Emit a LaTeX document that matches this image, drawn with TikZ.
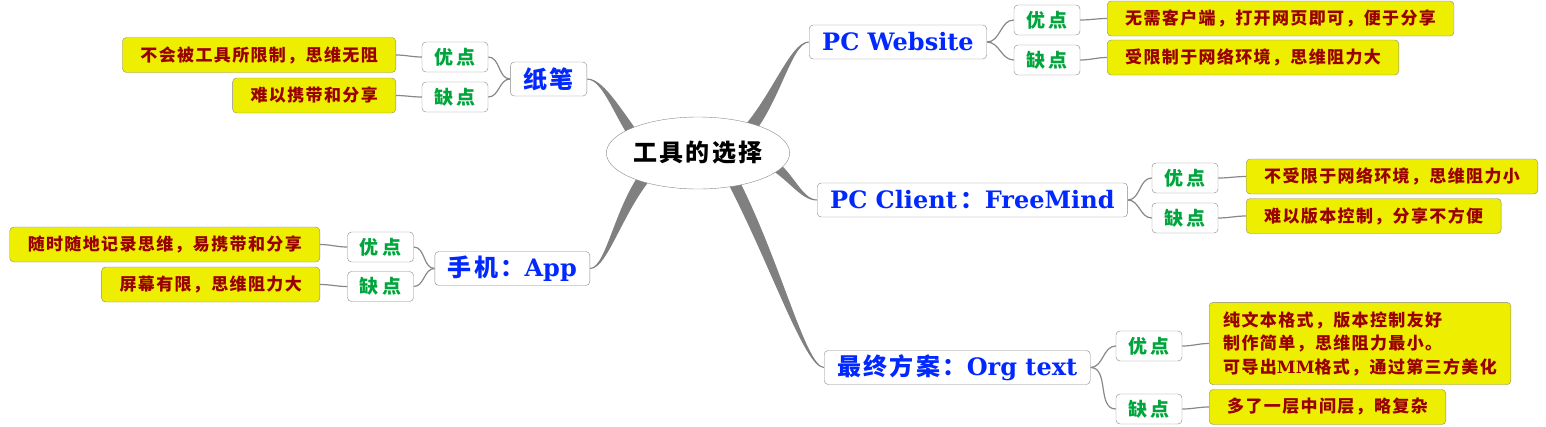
\documentclass[tikz,border=0pt]{standalone}
\usepackage{fontspec}
\setmainfont{DejaVu Serif}
\newfontfamily\cjkA{Noto Sans CJK SC}[LetterSpace=8]
\newfontfamily\cjkB{Noto Sans CJK SC}[LetterSpace=18]
\newfontfamily\cjkC{Noto Sans CJK SC}[LetterSpace=10]
\usetikzlibrary{shapes.geometric,backgrounds,calc}

\definecolor{linegray}{RGB}{136,136,136}
\definecolor{branchgray}{RGB}{128,128,128}
\definecolor{topicblue}{RGB}{0,40,255}
\definecolor{sidegreen}{RGB}{0,165,60}
\definecolor{noteyellow}{RGB}{238,238,0}
\definecolor{notered}{RGB}{153,0,0}

% tapered branch: start, control near start, control near root, end, half width
\newcommand\branch[5]{%
  \filldraw[branchfill] (#1) .. controls (#2) and ($(#3)+(#5)$) .. ($(#4)+(#5)$)
    -- ($(#4)-(#5)$) .. controls ($(#3)-(#5)$) and (#2) .. (#1) -- cycle;}

\begin{document}
\begin{tikzpicture}[x=1pt,y=-1pt,
    root/.style={ellipse,draw=linegray,fill=white,minimum width=170pt,minimum height=72pt,
      inner sep=0pt,font=\cjkC\bfseries\fontsize{24}{28}\selectfont},
    topic/.style={draw=linegray,fill=white,rounded corners=4pt,text=topicblue,
      minimum height=34pt,inner xsep=13pt,font=\bfseries\fontsize{24}{28}\selectfont},
    side/.style={draw=linegray,fill=white,rounded corners=4pt,text=sidegreen,
      minimum width=66pt,minimum height=30pt,inner sep=0pt,font=\cjkB\bfseries\fontsize{19}{21}\selectfont},
    note/.style={draw=linegray,fill=noteyellow,rounded corners=4pt,text=notered,align=left,
      minimum height=35pt,inner xsep=18pt,font=\cjkA\bfseries\fontsize{17}{23.5}\selectfont},
    link/.style={draw=linegray,line width=1.2pt},
    branchfill/.style={fill=branchgray,draw=branchgray,line width=1pt}]
\useasboundingbox (0,0) rectangle (1546,426);

\node[root] (root) at (698,153) {工具的选择};

% left side
\node[topic,anchor=east] (paper) at (587,79) {{\cjkC 纸笔}};
\node[side] (paperpro) at (455,57) {优点};
\node[side] (papercon) at (455,97) {缺点};
\node[note,anchor=east] (paperpronote) at (396,55) {不会被工具所限制，思维无阻};
\node[note,anchor=east] (paperconnote) at (396,95.5) {难以携带和分享};

\node[topic,anchor=east] (phone) at (590,268.5) {{\cjkC 手机：}App};
\node[side] (phonepro) at (380.5,247) {优点};
\node[side] (phonecon) at (380.5,286.5) {缺点};
\node[note,anchor=east] (phonepronote) at (320,244.5) {随时随地记录思维，易携带和分享};
\node[note,anchor=east] (phoneconnote) at (320,284.5) {屏幕有限，思维阻力大};

% right side
\node[topic,anchor=west] (web) at (809,42) {PC Website};
\node[side] (webpro) at (1047,20) {优点};
\node[side] (webcon) at (1047,60) {缺点};
\node[note,anchor=west] (webpronote) at (1107,18.5) {无需客户端，打开网页即可，便于分享};
\node[note,anchor=west] (webconnote) at (1107,57.5) {受限制于网络环境，思维阻力大};

\node[topic,anchor=west] (client) at (817,200) {PC Client\,{\cjkC ：}FreeMind};
\node[side] (clientpro) at (1185,178) {优点};
\node[side] (clientcon) at (1185,218) {缺点};
\node[note,anchor=west] (clientpronote) at (1246,176.5) {不受限于网络环境，思维阻力小};
\node[note,anchor=west] (clientconnote) at (1246,216) {难以版本控制，分享不方便};

\node[topic,anchor=west] (org) at (824,367.5) {{\cjkC 最终方案：}Org text};
\node[side] (orgpro) at (1149,346) {优点};
\node[side] (orgcon) at (1149,409) {缺点};
\node[note,anchor=west,inner ysep=9pt,inner xsep=14pt] (orgpronote) at (1209,343.5)
  {纯文本格式，版本控制友好\\制作简单，思维阻力最小。\\可导出{\rmfamily MM}格式，通过第三方美化};
\node[note,anchor=west] (orgconnote) at (1209,407) {多了一层中间层，略复杂};

\begin{scope}[on background layer]
  \branch{paper.east}{$(paper.east)+(18,0)$}{$(root)+(-78,-33)$}{$(root)+(-53,-3)$}{4,-3}
  \branch{phone.east}{$(phone.east)+(18,0)$}{$(root)+(-78,47)$}{$(root)+(-43,12)$}{4,4}
  \branch{web.west}{$(web.west)+(-19,0)$}{$(root)+(77,-48)$}{$(root)+(42,-13)$}{4,4}
  \branch{client.west}{$(client.west)+(-17,0)$}{$(root)+(92,19)$}{$(root)+(67,7)$}{2,-4.5}
  \branch{org.west}{$(org.west)+(-19,0)$}{$(root)+(77,107)$}{$(root)+(32,22)$}{4.5,-2.5}

  \path[link]
    (paper.west) edge[out=180,in=0] (paperpro.east)
                 edge[out=180,in=0] (papercon.east)
    (paperpro.west) edge[out=180,in=0] (paperpronote.east)
    (papercon.west) edge[out=180,in=0] (paperconnote.east)
    (phone.west) edge[out=180,in=0] (phonepro.east)
                 edge[out=180,in=0] (phonecon.east)
    (phonepro.west) edge[out=180,in=0] (phonepronote.east)
    (phonecon.west) edge[out=180,in=0] (phoneconnote.east)
    (web.east) edge[out=0,in=180] (webpro.west)
               edge[out=0,in=180] (webcon.west)
    (webpro.east) edge[out=0,in=180] (webpronote.west)
    (webcon.east) edge[out=0,in=180] (webconnote.west)
    (client.east) edge[out=0,in=180] (clientpro.west)
                  edge[out=0,in=180] (clientcon.west)
    (clientpro.east) edge[out=0,in=180] (clientpronote.west)
    (clientcon.east) edge[out=0,in=180] (clientconnote.west)
    (org.east) edge[out=0,in=180] (orgpro.west)
               edge[out=0,in=180] (orgcon.west)
    (orgpro.east) edge[out=0,in=180] (orgpronote.west)
    (orgcon.east) edge[out=0,in=180] (orgconnote.west);
\end{scope}
\end{tikzpicture}
\end{document}
